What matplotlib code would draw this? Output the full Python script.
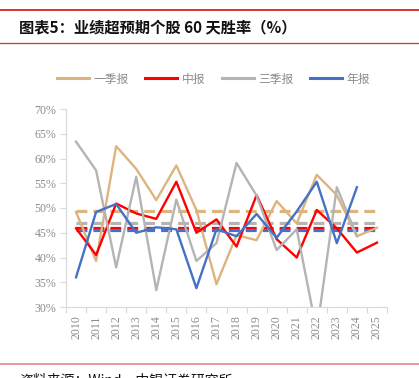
import numpy as np
import matplotlib
matplotlib.use('Agg')
import matplotlib.pyplot as plt
from matplotlib.lines import Line2D

plt.rcParams['font.family'] = ['Noto Sans CJK SC', 'DejaVu Sans']

# data (win rate %)
years = ['2010', '2011', '2012', '2013', '2014', '2015', '2016', '2017',
         '2018', '2019', '2020', '2021', '2022', '2023', '2024', '2025']
q1 = [49.2, 39.3, 62.5, 57.9, 51.6, 58.6, 49.6, 34.6,
      44.5, 43.5, 51.4, 46.9, 56.7, 52.6, 44.3, 46.0]
h1 = [45.9, 40.5, 50.9, 48.9, 47.8, 55.3, 45.0, 47.7,
      42.2, 52.6, 43.7, 40.0, 49.6, 45.9, 41.0, 43.0]
q3 = [63.4, 57.6, 38.0, 56.3, 33.4, 51.7, 39.3, 42.9,
      59.1, 52.5, 41.5, 45.7, 25.0, 54.2, 44.3]
fy = [36.0, 49.2, 50.8, 45.0, 46.1, 45.7, 33.8, 45.7,
      44.3, 48.8, 44.0, 49.3, 55.3, 42.9, 54.2]
avg_q1 = 49.3
avg_h1 = 46.0
avg_q3 = 46.9
avg_fy = 45.5

names = ['一季报', '中报', '三季报', '年报']
colors = ['#DDB47E', '#FF0000', '#B4B4B4', '#4472C4']

fig = plt.figure(figsize=(4.19, 3.78), dpi=100)
ax = fig.add_axes([66/419, 1-307/378, 321/419, 198/378])

x = np.arange(len(years))
series = [q1, h1, q3, fy]

# dashed average lines first, solid lines on top
for avg, c in zip([avg_q1, avg_q3, avg_h1, avg_fy], [colors[0], colors[2], colors[1], colors[3]]):
    ax.plot(x, [avg]*len(x), color=c, lw=2.3, dashes=(3.4, 1.9), solid_capstyle='butt')

for s, c in zip(series, colors):
    ax.plot(x[:len(s)], s, color=c, lw=1.7)

ax.set_xlim(-0.5, 15.5)
ax.set_ylim(30, 70)
ax.set_yticks(np.arange(30, 71, 5))
ax.set_yticklabels(['%d%%' % v for v in range(30, 71, 5)],
                   family='Liberation Serif', fontsize=8.6, color='#8C8C8C')
ax.set_xticks(x)
ax.set_xticklabels(years, rotation=90, family='Liberation Serif', fontsize=8.6, color='#8C8C8C')
ax.set_xticks(np.arange(-0.5, 16, 1), minor=True)
ax.tick_params(axis='x', which='major', length=0, pad=6)
ax.tick_params(axis='x', which='minor', length=4, color='#D9D9D9', width=0.8)
ax.tick_params(axis='y', length=4, color='#D9D9D9', width=0.8, pad=3)

for sp in ['top', 'right']:
    ax.spines[sp].set_visible(False)
ax.spines['left'].set_color('#D9D9D9')
ax.spines['bottom'].set_color('#D9D9D9')
ax.spines['left'].set_linewidth(0.8)
ax.spines['bottom'].set_linewidth(0.8)

handles = [Line2D([], [], color=c, lw=2.2) for c in colors]
fig.legend(handles, names, loc='center', bbox_to_anchor=(0.51, 1-79/378), ncol=4,
           frameon=False, fontsize=8.5, handlelength=2.7, handletextpad=0.4,
           columnspacing=1.4, labelcolor='#8C8C8C')

# title and frame lines
fig.add_artist(Line2D([0, 1], [1-10/378, 1-10/378], color='#D9312E', lw=1.4))
fig.add_artist(Line2D([0, 1], [1-43/378, 1-43/378], color='#D9312E', lw=0.9))
fig.text(19/419, 1-27/378, '图表5：业绩超预期个股 60 天胜率（%）', fontsize=11,
         fontweight='bold', va='center', ha='left', color='#111111')
fig.add_artist(Line2D([0, 1], [1-364/378, 1-364/378], color='#E08A8A', lw=1.2))
fig.text(19/419, 1-373/378, '资料来源：Wind，中银证券研究所', fontsize=10,
         va='top', ha='left', color='#111111')

fig.savefig('out.png', dpi=100)
